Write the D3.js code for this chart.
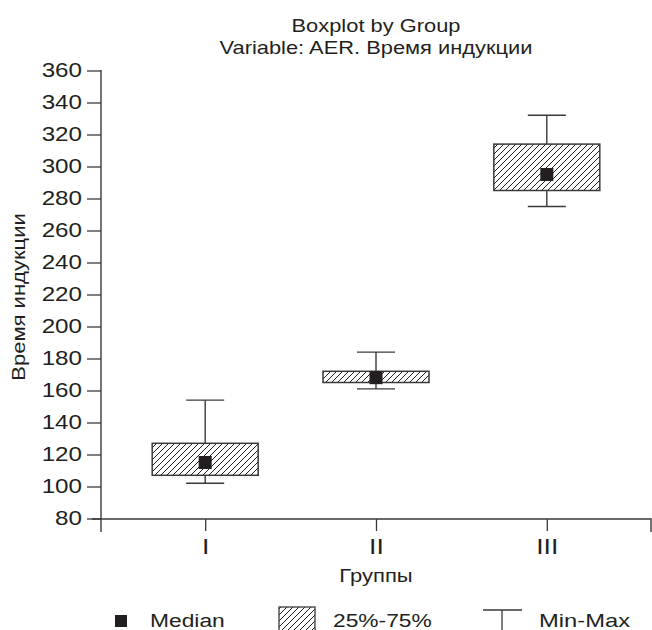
<!DOCTYPE html>
<html lang="ru">
<head>
<meta charset="utf-8">
<title>Boxplot by Group</title>
<script src="https://cdn.jsdelivr.net/npm/d3@7"></script>
<style>
  body { margin: 0; background: #fff; }
  text { font-family: "Liberation Sans", Arial, sans-serif; fill: #231f20; }
</style>
</head>
<body>
<script>
// data
var groups  = ["I", "II", "III"];
var minVals = [102, 161, 275];
var q1Vals  = [107, 165, 285];
var medians = [115, 168, 295];
var q3Vals  = [127, 172, 314];
var maxVals = [154, 184, 332];
var yTicks  = [80, 100, 120, 140, 160, 180, 200, 220, 240, 260, 280, 300, 320, 340, 360];

var w = 652, h = 630;
var ink = "#3a3a3a";
var sx = 1.21; // the original lettering is a bit wider than Arial

var svg = d3.select("body").append("svg").attr("width", w).attr("height", h);

// widen text around its own anchor point
function stretch(sel, k, extra) {
  sel.each(function() {
    var t = d3.select(this);
    var tx = +t.attr("x") || 0, ty = +t.attr("y") || 0;
    t.attr("x", 0).attr("y", 0)
      .attr("transform", "translate(" + tx + "," + ty + ")" + (extra || "") + " scale(" + k + ",1)");
  });
}

// hatch for the 25%-75% boxes
var pat = svg.append("defs").append("pattern")
  .attr("id", "hatch").attr("patternUnits", "userSpaceOnUse")
  .attr("width", 6).attr("height", 6);
pat.append("rect").attr("width", 6).attr("height", 6).attr("fill", "#fff");
pat.append("path")
  .attr("d", "M0,6 L6,0 M-1,1 L1,-1 M5,7 L7,5")
  .attr("stroke", "#231f20").attr("stroke-width", 1);

var y = d3.scaleLinear().domain([80, 360]).range([518.5, 70.5]);
var x = d3.scalePoint().domain(groups).range([101, 651]).padding(0.61);

// titles
svg.append("text").attr("x", 376).attr("y", 32).attr("text-anchor", "middle")
  .style("font-size", "17.5px").text("Boxplot by Group").call(stretch, 1.25);
svg.append("text").attr("x", 376).attr("y", 54).attr("text-anchor", "middle")
  .style("font-size", "17.5px").text("Variable: AER. Время индукции").call(stretch, 1.25);

// y axis
var yAxis = svg.append("g").attr("transform", "translate(101,0)")
  .call(d3.axisLeft(y).tickValues(yTicks).tickSize(14).tickPadding(5).tickSizeOuter(0));
yAxis.select(".domain").remove();
yAxis.selectAll("line").attr("stroke", ink).attr("stroke-width", 1.3);
yAxis.selectAll("text").style("font-size", "20px").attr("fill", "#231f20")
  .attr("font-family", "Liberation Sans, Arial, sans-serif").call(stretch, sx);
yAxis.append("line").attr("x1", 0).attr("x2", 0)
  .attr("y1", y(360) - 0.6).attr("y2", 532)
  .attr("stroke", ink).attr("stroke-width", 1.4);

// x axis
var xAxis = svg.append("g").attr("transform", "translate(0,519)")
  .call(d3.axisBottom(x).tickSize(12).tickPadding(7).tickSizeOuter(0));
xAxis.select(".domain").remove();
xAxis.selectAll("line").attr("stroke", ink).attr("stroke-width", 1.3);
xAxis.selectAll("text").style("font-size", "22px").attr("fill", "#231f20")
  .attr("font-family", "Liberation Sans, Arial, sans-serif").call(stretch, sx);
xAxis.append("path").attr("d", "M92,0 H651 V13")
  .attr("fill", "none").attr("stroke", ink).attr("stroke-width", 1.4);

// axis titles
svg.append("text").attr("x", 25).attr("y", 297)
  .attr("text-anchor", "middle").style("font-size", "19px").text("Время индукции")
  .call(stretch, 1.16, " rotate(-90)");
svg.append("text").attr("x", 376).attr("y", 582).attr("text-anchor", "middle")
  .style("font-size", "19px").text("Группы").call(stretch, 1.16);

// boxes
var boxW = 106, capW = 38, medS = 13;
var box = svg.selectAll(".box").data(groups).enter().append("g").attr("class", "box");

box.append("line")
  .attr("x1", function(d) { return x(d); }).attr("x2", function(d) { return x(d); })
  .attr("y1", function(d, i) { return y(maxVals[i]); })
  .attr("y2", function(d, i) { return y(minVals[i]); })
  .attr("stroke", ink).attr("stroke-width", 1.4);
box.append("line")
  .attr("x1", function(d) { return x(d) - capW / 2; }).attr("x2", function(d) { return x(d) + capW / 2; })
  .attr("y1", function(d, i) { return y(maxVals[i]); }).attr("y2", function(d, i) { return y(maxVals[i]); })
  .attr("stroke", ink).attr("stroke-width", 1.4);
box.append("line")
  .attr("x1", function(d) { return x(d) - capW / 2; }).attr("x2", function(d) { return x(d) + capW / 2; })
  .attr("y1", function(d, i) { return y(minVals[i]); }).attr("y2", function(d, i) { return y(minVals[i]); })
  .attr("stroke", ink).attr("stroke-width", 1.4);
box.append("rect")
  .attr("x", function(d) { return x(d) - boxW / 2; })
  .attr("y", function(d, i) { return y(q3Vals[i]); })
  .attr("width", boxW)
  .attr("height", function(d, i) { return y(q1Vals[i]) - y(q3Vals[i]); })
  .attr("fill", "url(#hatch)").attr("stroke", ink).attr("stroke-width", 1.5);
box.append("rect")
  .attr("x", function(d) { return x(d) - medS / 2; })
  .attr("y", function(d, i) { return y(medians[i]) - medS / 2; })
  .attr("width", medS).attr("height", medS)
  .attr("fill", "#231f20");

// legend
var lg = svg.append("g");
lg.append("rect").attr("x", 115).attr("y", 615).attr("width", 12).attr("height", 12).attr("fill", "#231f20");
lg.append("text").attr("x", 150).attr("y", 627).style("font-size", "19px").text("Median").call(stretch, 1.2);
lg.append("rect").attr("x", 279).attr("y", 607).attr("width", 36).attr("height", 26)
  .attr("fill", "url(#hatch)").attr("stroke", ink).attr("stroke-width", 1.3);
lg.append("text").attr("x", 333).attr("y", 627).style("font-size", "19px").text("25%-75%").call(stretch, 1.2);
lg.append("path").attr("d", "M483,610 H522 M502,610 V632")
  .attr("fill", "none").attr("stroke", ink).attr("stroke-width", 1.3);
lg.append("text").attr("x", 539).attr("y", 627).style("font-size", "19px").text("Min-Max").call(stretch, 1.25);
</script>
</body>
</html>
